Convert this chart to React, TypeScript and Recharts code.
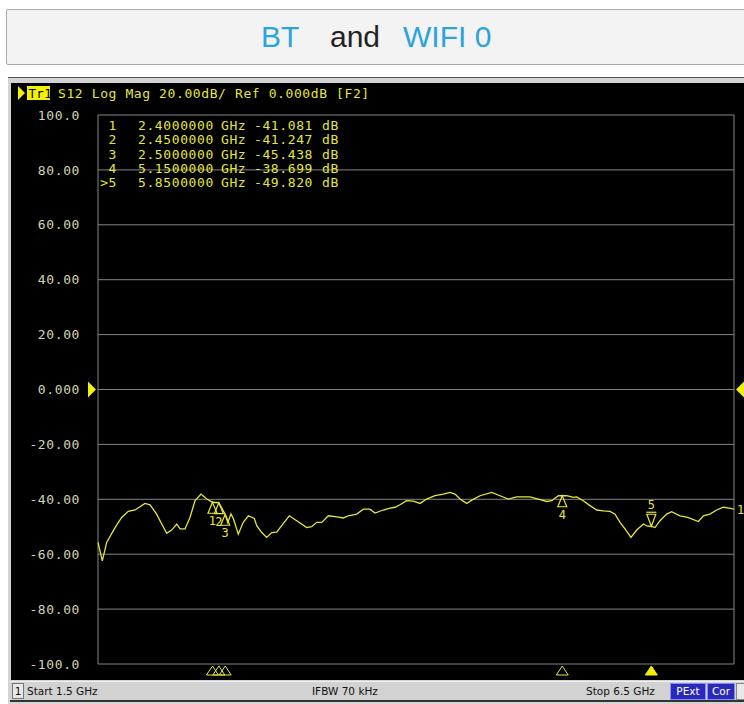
import React from 'react'
import { LineChart, Line, XAxis, YAxis, CartesianGrid, ReferenceDot } from 'recharts'

// trace S12, frequency in GHz, magnitude in dB
const freqs = [
  1.5, 1.534, 1.568, 1.634, 1.686, 1.738, 1.791, 1.869, 1.909, 1.961, 2.001, 2.04, 2.079, 2.119, 2.145,
  2.184, 2.223, 2.263, 2.31, 2.355, 2.4, 2.45, 2.5, 2.52, 2.545, 2.564, 2.603, 2.642, 2.682, 2.729,
  2.748, 2.787, 2.826, 2.866, 2.905, 2.944, 3.004, 3.062, 3.141, 3.18, 3.219, 3.259, 3.311, 3.377,
  3.428, 3.468, 3.534, 3.586, 3.638, 3.678, 3.743, 3.796, 3.835, 3.874, 3.927, 3.979, 4.031, 4.084,
  4.149, 4.215, 4.267, 4.307, 4.346, 4.399, 4.438, 4.503, 4.595, 4.66, 4.726, 4.792, 4.896, 4.962,
  5.028, 5.067, 5.119, 5.15, 5.185, 5.237, 5.263, 5.315, 5.368, 5.421, 5.473, 5.525, 5.565, 5.604,
  5.643, 5.69, 5.735, 5.788, 5.819, 5.85, 5.879, 5.918, 5.971, 6.01, 6.075, 6.136, 6.22, 6.259,
  6.311, 6.364, 6.416, 6.464, 6.5,
]
const s12 = [
  -55.7, -62.4, -55.7, -50.3, -46.6, -44.4, -43.9, -41.5, -42.0, -45.4, -49.0, -52.4, -51.2, -49.0, -50.8,
  -50.8, -46.6, -40.5, -38.1, -39.9, -41.08, -41.25, -45.44, -48.5, -45.3, -47.0, -52.7, -48.4, -46.0, -47.0,
  -49.6, -52.1, -53.9, -52.1, -52.0, -49.6, -46.0, -47.8, -50.3, -50.0, -48.4, -48.4, -46.0, -46.4,
  -46.8, -46.0, -45.4, -43.6, -43.6, -45.0, -43.9, -43.2, -42.9, -42.0, -40.5, -40.7, -41.5, -39.9,
  -38.7, -38.1, -37.5, -38.1, -39.9, -41.5, -40.3, -38.7, -37.5, -38.7, -39.9, -39.1, -39.1, -39.9,
  -40.8, -40.5, -38.7, -38.7, -38.7, -39.3, -39.1, -40.5, -42.3, -43.9, -44.2, -44.4, -45.4, -48.4,
  -50.8, -53.9, -51.2, -49.0, -49.8, -49.82, -50.3, -47.8, -45.4, -44.5, -46.0, -46.6, -48.1, -46.0,
  -45.4, -43.9, -42.9, -43.2, -43.6,
]

const markerIds = ['1', '2', '3', '4', '5']
const markerFreqs = [2.4, 2.45, 2.5, 5.15, 5.85]
const markerVals = [-41.081, -41.247, -45.438, -38.699, -49.82]
const activeMarker = '5'

const xTicks = [1.5, 2, 2.5, 3, 3.5, 4, 4.5, 5, 5.5, 6, 6.5]
const yTicks = [100, 80, 60, 40, 20, 0, -20, -40, -60, -80, -100]

const data = freqs.map((f, i) => ({ f, db: s12[i] }))

const YEL = '#e6e63a'
const TICK = '#d4d4b4'
const GRID = '#858585'
const MONO = '"DejaVu Sans Mono", monospace'

function fmtY(v: number) {
  if (v === 0) return '0.000'
  if (Math.abs(v) === 100) return v.toFixed(1)
  return v.toFixed(2)
}

// marker on the trace: up triangle with label below, active one points down with label above
function MarkerShape(props: any) {
  const { cx, cy, id } = props
  if (id === activeMarker) {
    return (
      <g>
        <path d={`M${cx - 4.5},${cy - 12} L${cx + 4.5},${cy - 12} L${cx},${cy} Z`} fill="none" stroke={YEL} strokeWidth={1.2} />
        <line x1={cx - 5} x2={cx + 5} y1={cy - 14} y2={cy - 14} stroke={YEL} strokeWidth={1.2} />
        <text x={cx} y={cy - 17} fill={YEL} fontSize={12} fontFamily={MONO} textAnchor="middle">{id}</text>
      </g>
    )
  }
  return (
    <g>
      <path d={`M${cx},${cy} L${cx - 4.5},${cy + 11} L${cx + 4.5},${cy + 11} Z`} fill="none" stroke={YEL} strokeWidth={1.2} />
      <text x={cx} y={cy + 23} fill={YEL} fontSize={12} fontFamily={MONO} textAnchor="middle">{id}</text>
    </g>
  )
}

// small triangles below the grid showing marker positions
function AxisMarker(props: any) {
  const { cx, cy, id } = props
  const top = cy + 2
  return (
    <path
      d={`M${cx},${top} L${cx - 6},${top + 9} L${cx + 6},${top + 9} Z`}
      fill={id === activeMarker ? '#f2f200' : 'none'}
      stroke={id === activeMarker ? '#f2f200' : YEL}
      strokeWidth={1}
    />
  )
}

function RefLeft(props: any) {
  const { cx, cy } = props
  return <path d={`M${cx - 10},${cy - 8} L${cx - 2},${cy} L${cx - 10},${cy + 8} Z`} fill="#f2f200" />
}

function RefRight(props: any) {
  const { cx, cy } = props
  return <path d={`M${cx + 2},${cy} L${cx + 10},${cy - 8} L${cx + 10},${cy + 8} Z`} fill="#f2f200" />
}

function TraceLabel(props: any) {
  const { cx, cy } = props
  return <text x={cx + 3} y={cy + 5} fill={YEL} fontSize={12} fontFamily={MONO}>1</text>
}

export default function App() {
  const lastF = freqs[freqs.length - 1]
  const lastV = s12[s12.length - 1]
  return (
    <div style={{ position: 'absolute', left: 0, top: 0, width: 744, height: 704, background: '#fff', overflow: 'hidden' }}>
      {/* title box */}
      <div style={{ position: 'absolute', left: 6, top: 9, width: 760, height: 54, border: '1px solid #a9a9a9', background: '#f3f3f3', borderRadius: 2 }} />
      <div style={{ position: 'absolute', top: 20, left: 0, width: 744, height: 40, fontFamily: '"Liberation Sans", Arial, sans-serif', fontSize: 30 }}>
        <span style={{ position: 'absolute', left: 261, top: 0, color: '#2ba3dc' }}>BT</span>
        <span style={{ position: 'absolute', left: 330, top: 0, color: '#222' }}>and</span>
        <span style={{ position: 'absolute', left: 403, top: 0, color: '#2ba3dc' }}>WIFI 0</span>
      </div>

      {/* analyzer window */}
      <div style={{ position: 'absolute', left: 8, top: 77, width: 740, height: 627, background: '#d4d4d4', borderTop: '1px solid #555' }} />
      <div style={{ position: 'absolute', left: 11, top: 83, width: 740, height: 597, background: '#000' }} />

      {/* header */}
      <svg style={{ position: 'absolute', left: 0, top: 0 }} width={744} height={110}>
        <path d="M18,86 L25,93 L18,100 Z" fill="#f2f200" />
        <rect x={27} y={86} width={23} height={14} fill="#f2f200" />
        <text x={28.5} y={97.5} fill="#000" fontSize={12.5} fontFamily={MONO} letterSpacing={0.3}>Tr1</text>
        <text x={58} y={98} fill={YEL} fontSize={13} fontFamily={MONO} letterSpacing={0.6}>
          S12 Log Mag 20.00dB/ Ref 0.000dB [F2]
        </text>
      </svg>

      <div style={{ position: 'absolute', left: 0, top: 0 }}>
        <LineChart width={744} height={704} data={data} margin={{ top: 115, right: 10, bottom: 40, left: 8 }}>
          <CartesianGrid stroke={GRID} strokeWidth={1} />
          <XAxis dataKey="f" type="number" domain={[1.5, 6.5]} ticks={xTicks} height={0} tick={false} axisLine={false} tickLine={false} />
          <YAxis
            type="number"
            domain={[-100, 100]}
            ticks={yTicks}
            width={90}
            tickFormatter={fmtY}
            axisLine={false}
            tickLine={false}
            tickMargin={12}
            interval={0}
            tick={{ fill: TICK, fontSize: 13, fontFamily: MONO, letterSpacing: 0.6 }}
          />
          <Line type="linear" dataKey="db" stroke={YEL} strokeWidth={1.3} dot={false} isAnimationActive={false} />
          <ReferenceDot x={1.5} y={0} ifOverflow="visible" shape={RefLeft} />
          <ReferenceDot x={6.5} y={0} ifOverflow="visible" shape={RefRight} />
          <ReferenceDot x={lastF} y={lastV} ifOverflow="visible" shape={TraceLabel} />
          {markerIds.map((id, i) => (
            <ReferenceDot key={'m' + id} x={markerFreqs[i]} y={markerVals[i]} ifOverflow="visible" shape={(p: any) => <MarkerShape {...p} id={id} />} />
          ))}
          {markerIds.map((id, i) => (
            <ReferenceDot key={'a' + id} x={markerFreqs[i]} y={-100} ifOverflow="visible" shape={(p: any) => <AxisMarker {...p} id={id} />} />
          ))}
        </LineChart>
      </div>

      {/* marker table */}
      <div style={{ position: 'absolute', left: 0, top: 0, fontFamily: MONO, fontSize: 13, color: YEL, letterSpacing: 0.6 }}>
        {markerIds.map((id, i) => (
          <div key={id} style={{ position: 'absolute', top: 119 + i * 14.3, left: 0, whiteSpace: 'pre', lineHeight: '14px' }}>
            <span style={{ position: 'absolute', left: 100, width: 17, textAlign: 'right' }}>{(id === activeMarker ? '>' : '') + id}</span>
            <span style={{ position: 'absolute', left: 138 }}>{markerFreqs[i].toFixed(7)}</span>
            <span style={{ position: 'absolute', left: 221 }}>GHz</span>
            <span style={{ position: 'absolute', left: 254 }}>{markerVals[i].toFixed(3)}</span>
            <span style={{ position: 'absolute', left: 322 }}>dB</span>
          </div>
        ))}
      </div>

      {/* status bar */}
      <div style={{ position: 'absolute', left: 10, top: 681, width: 740, height: 18, background: '#d2d2d2', borderTop: '1px solid #f0f0f0', borderBottom: '2px solid #333', fontFamily: '"DejaVu Sans", sans-serif', fontSize: 10.5, color: '#111' }}>
        <div style={{ position: 'absolute', left: 2, top: 1, width: 10, height: 14, border: '1px solid #777', background: '#e8e8e8', textAlign: 'center', lineHeight: '14px' }}>1</div>
        <div style={{ position: 'absolute', left: 17, top: 2, lineHeight: '14px' }}>Start 1.5 GHz</div>
        <div style={{ position: 'absolute', left: 302, top: 2, lineHeight: '14px' }}>IFBW 70 kHz</div>
        <div style={{ position: 'absolute', left: 576, top: 2, lineHeight: '14px' }}>Stop 6.5 GHz</div>
        <div style={{ position: 'absolute', left: 660, top: 1, width: 34, height: 15, background: '#2a2ab8', color: '#fff', textAlign: 'center', lineHeight: '15px', border: '1px solid #8888ff' }}>PExt</div>
        <div style={{ position: 'absolute', left: 697, top: 1, width: 26, height: 15, background: '#2a2ab8', color: '#fff', textAlign: 'center', lineHeight: '15px', border: '1px solid #8888ff' }}>Cor</div>
        <div style={{ position: 'absolute', left: 726, top: 1, width: 20, height: 15, background: '#e8e8e8', border: '1px solid #888' }} />
      </div>
    </div>
  )
}
